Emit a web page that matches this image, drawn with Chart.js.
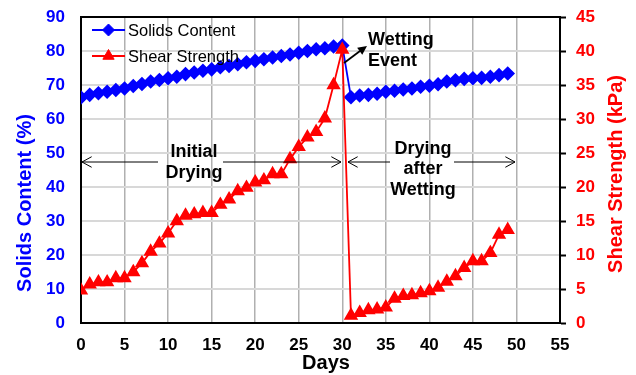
<!DOCTYPE html>
<html lang="en">
<head>
<meta charset="UTF-8">
<title>Solids Content and Shear Strength</title>
<script src="https://cdn.jsdelivr.net/npm/chart.js@4"></script>
<style>
  html, body { margin: 0; padding: 0; background: #fff; }
  #wrap { width: 636px; height: 375px; }
</style>
</head>
<body>
<div id="wrap"><canvas id="myChart" width="636" height="375"></canvas></div>
<script>
// days of the test
const days = [0, 1, 2, 3, 4, 5, 6, 7, 8, 9, 10, 11, 12, 13, 14, 15, 16, 17, 18, 19,
              20, 21, 22, 23, 24, 25, 26, 27, 28, 29, 30, 31, 32, 33, 34, 35, 36, 37, 38, 39,
              40, 41, 42, 43, 44, 45, 46, 47, 48, 49];

// solids content (%) - left axis
const solids = [66.3, 67.1, 67.6, 68.0, 68.5, 69.0, 69.7, 70.3, 71.0, 71.5,
                72.0, 72.4, 73.2, 73.7, 74.2, 74.6, 75.2, 75.6, 76.1, 76.7,
                77.1, 77.6, 78.1, 78.5, 79.0, 79.5, 80.0, 80.5, 80.8, 81.3,
                81.6, 66.4, 66.9, 67.1, 67.4, 68.0, 68.3, 68.7, 69.0, 69.5,
                69.8, 70.2, 71.0, 71.4, 71.8, 72.0, 72.1, 72.4, 72.9, 73.4];

// shear strength (kPa) - right axis
const shear = [4.8, 5.7, 6.0, 6.0, 6.6, 6.6, 7.5, 8.8, 10.5, 11.7,
               13.2, 15.0, 15.8, 16.0, 16.2, 16.2, 17.4, 18.2, 19.4, 19.9,
               20.7, 21.0, 21.9, 21.9, 24.1, 25.9, 27.3, 28.1, 30.1, 35.0,
               40.2, 1.1, 1.5, 1.9, 2.0, 2.3, 3.6, 4.0, 4.1, 4.4,
               4.7, 5.2, 6.1, 6.9, 8.1, 9.1, 9.1, 10.3, 13.0, 13.7];

const xTicks = [0, 5, 10, 15, 20, 25, 30, 35, 40, 45, 50, 55];
const leftTicks = [0, 10, 20, 30, 40, 50, 60, 70, 80, 90];
const rightTicks = [0, 5, 10, 15, 20, 25, 30, 35, 40, 45];

const fonte = "'Liberation Sans', Arial, sans-serif";

function pontos(ys) {
    return days.map(function (d, i) { return { x: d, y: ys[i] }; });
}

// seta simples (cabeca aberta)
function setaAberta(ctx, x1, y1, x2, y2) {
    const ang = Math.atan2(y2 - y1, x2 - x1);
    const tam = 11, abre = 0.5;
    ctx.beginPath();
    ctx.moveTo(x2 - tam * Math.cos(ang - abre), y2 - tam * Math.sin(ang - abre));
    ctx.lineTo(x2, y2);
    ctx.lineTo(x2 - tam * Math.cos(ang + abre), y2 - tam * Math.sin(ang + abre));
    ctx.stroke();
}

// tira o padding automatico dos eixos, para o layout ficar fixo
function semPadding(s) {
    s.paddingTop = 0;
    s.paddingBottom = 0;
    s.paddingLeft = 0;
    s.paddingRight = 0;
}

const extras = {
    id: 'extras',
    afterDraw: function (chart) {
        const ctx = chart.ctx;
        const a = chart.chartArea;
        ctx.save();

        // borda de cima
        ctx.strokeStyle = '#000';
        ctx.lineWidth = 2;
        ctx.beginPath();
        ctx.moveTo(a.left, a.top);
        ctx.lineTo(a.right, a.top);
        ctx.stroke();

        // titulos dos eixos
        ctx.font = 'bold 20px ' + fonte;
        ctx.textAlign = 'center';
        ctx.textBaseline = 'middle';
        ctx.fillStyle = '#0000ff';
        ctx.save();
        ctx.translate(25, 203);
        ctx.rotate(-Math.PI / 2);
        ctx.fillText('Solids Content (%)', 0, 0);
        ctx.restore();

        ctx.fillStyle = '#ff0000';
        ctx.save();
        ctx.translate(616, 174);
        ctx.rotate(-Math.PI / 2);
        ctx.fillText('Shear Strength (kPa)', 0, 0);
        ctx.restore();

        ctx.fillStyle = '#000';
        ctx.fillText('Days', 326, 363);

        // legenda dentro do grafico
        const ds = chart.data.datasets;
        const linhas = [30, 56];
        ctx.font = '16.5px ' + fonte;
        ctx.textAlign = 'left';
        for (let i = 0; i < ds.length; i++) {
            const y = linhas[i];
            ctx.strokeStyle = ds[i].borderColor;
            ctx.lineWidth = 2;
            ctx.beginPath();
            ctx.moveTo(92, y);
            ctx.lineTo(125, y);
            ctx.stroke();
            ctx.fillStyle = ds[i].pointBackgroundColor;
            ctx.strokeStyle = ds[i].borderColor;
            ctx.lineWidth = 1;
            Chart.helpers.drawPoint(ctx, { pointStyle: ds[i].pointStyle, radius: ds[i].pointRadius, rotation: 0, borderWidth: 1 }, 108.5, y);
            ctx.fillStyle = '#000';
            ctx.fillText(ds[i].label, 128, y + 1);
        }

        // anotacoes
        ctx.fillStyle = '#000';
        ctx.strokeStyle = '#000';
        ctx.font = 'bold 18px ' + fonte;
        ctx.textAlign = 'center';
        ctx.fillText('Initial', 194, 152);
        ctx.fillText('Drying', 194, 173);
        ctx.fillText('Drying', 423, 149);
        ctx.fillText('after', 423, 169);
        ctx.fillText('Wetting', 423, 190);
        ctx.textAlign = 'left';
        ctx.fillText('Wetting', 368, 40);
        ctx.fillText('Event', 368, 61);

        ctx.lineWidth = 1;
        ctx.beginPath();
        ctx.moveTo(82, 162); ctx.lineTo(158, 162);
        ctx.moveTo(223, 162); ctx.lineTo(341, 162);
        ctx.moveTo(348, 162); ctx.lineTo(390, 162);
        ctx.moveTo(454, 162); ctx.lineTo(515, 162);
        ctx.stroke();
        setaAberta(ctx, 120, 162, 82, 162);
        setaAberta(ctx, 300, 162, 341, 162);
        setaAberta(ctx, 380, 162, 348, 162);
        setaAberta(ctx, 480, 162, 515, 162);

        // seta do evento de molhagem
        ctx.lineWidth = 1.8;
        ctx.beginPath();
        ctx.moveTo(344, 63);
        ctx.lineTo(360, 51);
        ctx.stroke();
        const ang = Math.atan2(47 - 63, 366 - 344);
        ctx.beginPath();
        ctx.moveTo(367, 46);
        ctx.lineTo(367 - 10 * Math.cos(ang - 0.45), 46 - 10 * Math.sin(ang - 0.45));
        ctx.lineTo(367 - 10 * Math.cos(ang + 0.45), 46 - 10 * Math.sin(ang + 0.45));
        ctx.closePath();
        ctx.fill();

        ctx.restore();
    }
};

const config = {
    type: 'line',
    data: {
        datasets: [{
            label: 'Solids Content',
            data: pontos(solids),
            yAxisID: 'y',
            borderColor: '#0000ff',
            backgroundColor: '#0000ff',
            pointBackgroundColor: '#0000ff',
            pointBorderColor: '#0000ff',
            pointStyle: 'rectRot',
            pointRadius: 6,
            borderWidth: 1.8,
            tension: 0,
            order: 1
        }, {
            label: 'Shear Strength',
            data: pontos(shear),
            yAxisID: 'y1',
            borderColor: '#ff0000',
            backgroundColor: '#ff0000',
            pointBackgroundColor: '#ff0000',
            pointBorderColor: '#ff0000',
            pointStyle: 'triangle',
            pointRadius: 6.5,
            borderWidth: 1.8,
            tension: 0,
            order: 0
        }]
    },
    options: {
        responsive: false,
        animation: false,
        devicePixelRatio: 1,
        layout: { padding: { top: 17, left: 0, right: 0, bottom: 0 } },
        plugins: {
            legend: { display: false },
            tooltip: { enabled: false }
        },
        scales: {
            x: {
                type: 'linear',
                min: 0,
                max: 55,
                afterBuildTicks: function (s) { s.ticks = xTicks.map(function (v) { return { value: v }; }); },
                afterFit: function (s) { s.height = 52; semPadding(s); },
                ticks: { color: '#000', font: { family: fonte, size: 17, weight: 'bold' }, padding: 12, maxRotation: 0 },
                grid: { color: '#b0b0b0', lineWidth: 1.5, drawTicks: false },
                border: { color: '#000', width: 2 }
            },
            y: {
                position: 'left',
                min: 0,
                max: 90,
                afterBuildTicks: function (s) { s.ticks = leftTicks.map(function (v) { return { value: v }; }); },
                afterFit: function (s) { s.width = 81; semPadding(s); },
                ticks: { color: '#0000ff', font: { family: fonte, size: 17, weight: 'bold' }, padding: 16 },
                grid: { color: '#d8d8d8', lineWidth: 2, drawTicks: false },
                border: { color: '#000', width: 2 }
            },
            y1: {
                position: 'right',
                min: 0,
                max: 45,
                afterBuildTicks: function (s) { s.ticks = rightTicks.map(function (v) { return { value: v }; }); },
                afterFit: function (s) { s.width = 76; semPadding(s); },
                ticks: { color: '#ff0000', font: { family: fonte, size: 17, weight: 'bold' }, padding: 10 },
                grid: { drawOnChartArea: false, drawTicks: true, tickLength: 6, tickColor: '#000', tickWidth: 2 },
                border: { color: '#000', width: 2 }
            }
        }
    },
    plugins: [extras]
};

let myChart = new Chart(document.getElementById('myChart'), config);
</script>
</body>
</html>
